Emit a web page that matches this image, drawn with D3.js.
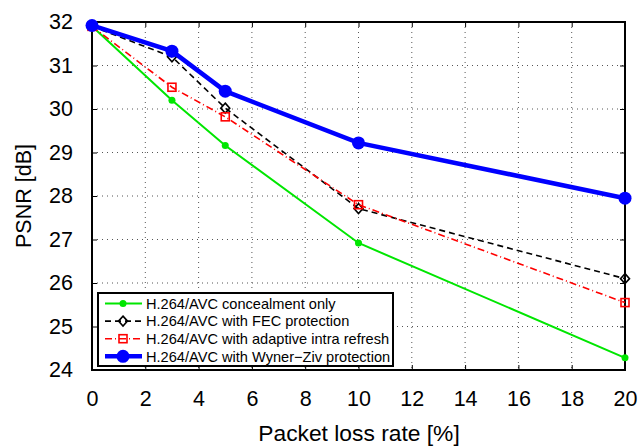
<!DOCTYPE html>
<html>
<head>
<meta charset="utf-8">
<title>PSNR vs packet loss</title>
<script src="https://d3js.org/d3.v7.min.js"></script>
<style>
  body { margin: 0; background: #fff; }
  text { font-family: "Liberation Sans", Arial, sans-serif; }
</style>
</head>
<body>
<svg width="638" height="446"></svg>
<script>
const lossRates = [0, 3, 5, 10, 20]
const concealment = [31.9, 30.2, 29.16, 26.92, 24.28]
const fec = [31.9, 31.2, 30.02, 27.71, 26.1]
const intraRefresh = [31.9, 30.5, 29.82, 27.8, 25.55]
const wynerZiv = [31.92, 31.33, 30.41, 29.22, 27.95]
const seriesNames = [
  "H.264/AVC concealment only",
  "H.264/AVC with FEC protection",
  "H.264/AVC with adaptive intra refresh",
  "H.264/AVC with Wyner\u2212Ziv protection"
]
const xTicks = [0, 2, 4, 6, 8, 10, 12, 14, 16, 18, 20]
const yTicks = [24, 25, 26, 27, 28, 29, 30, 31, 32]

const svg = d3.select("svg")
const margin = { top: 22, right: 13, bottom: 76, left: 92 }
const width = +svg.attr("width") - margin.left - margin.right
const height = +svg.attr("height") - margin.top - margin.bottom

const x = d3.scaleLinear().domain([0, 20]).range([0, width])
const y = d3.scaleLinear().domain([24, 32]).range([height, 0])

const g = svg.append("g").attr("transform", `translate(${margin.left},${margin.top})`)

// dotted grid
g.append("g").selectAll("line").data(xTicks.slice(1, -1)).join("line")
  .attr("x1", d => x(d)).attr("x2", d => x(d)).attr("y1", 0).attr("y2", height)
  .attr("stroke", "#555").attr("stroke-width", 1).attr("stroke-dasharray", "1,4")
g.append("g").selectAll("line").data(yTicks.slice(1, -1)).join("line")
  .attr("y1", d => y(d)).attr("y2", d => y(d)).attr("x1", 0).attr("x2", width)
  .attr("stroke", "#555").attr("stroke-width", 1).attr("stroke-dasharray", "1,4")

// axes, ticks inward
const xAxis = d3.axisBottom(x).tickValues(xTicks).tickSizeInner(-5).tickSizeOuter(0).tickPadding(21)
const yAxis = d3.axisLeft(y).tickValues(yTicks).tickSizeInner(-5).tickSizeOuter(0).tickPadding(19)
const gx = g.append("g").attr("transform", `translate(0,${height})`).call(xAxis)
const gy = g.append("g").call(yAxis)
g.append("g").call(d3.axisTop(x).tickValues(xTicks).tickSizeInner(-5).tickSizeOuter(0).tickFormat(""))
  .call(a => a.select(".domain").remove())
g.append("g").attr("transform", `translate(${width},0)`)
  .call(d3.axisRight(y).tickValues(yTicks).tickSizeInner(-5).tickSizeOuter(0).tickFormat(""))
  .call(a => a.select(".domain").remove())
for (const a of [gx, gy]) {
  a.selectAll("text").attr("font-size", 21.5).attr("fill", "#000")
  a.select(".domain").remove()
}
g.selectAll(".tick line").attr("stroke", "#000").attr("stroke-width", 1)

// frame
g.append("rect").attr("width", width).attr("height", height)
  .attr("fill", "none").attr("stroke", "#000").attr("stroke-width", 2)

// axis titles
svg.append("text").attr("x", margin.left + width / 2 + 0.5).attr("y", 441)
  .attr("text-anchor", "middle").attr("font-size", 22.8).text("Packet loss rate [%]")
svg.append("text").attr("transform", `translate(31,${margin.top + height / 2}) rotate(-90)`)
  .attr("text-anchor", "middle").attr("font-size", 21.5).text("PSNR [dB]")

const styles = [
  { vals: concealment, color: "#00e600", width: 2, dash: null, marker: "dot" },
  { vals: fec, color: "#000", width: 1.6, dash: "6,4", marker: "diamond" },
  { vals: intraRefresh, color: "#ff0000", width: 1.6, dash: "7,3,1,3", marker: "square" },
  { vals: wynerZiv, color: "#0000ff", width: 4.5, dash: null, marker: "circle" }
]

const line = d3.line().x(d => x(d[0])).y(d => y(d[1]))

function drawMarker(sel, type, color) {
  if (type === "dot") {
    sel.append("circle").attr("r", 3.5).attr("fill", color)
  } else if (type === "circle") {
    sel.append("circle").attr("r", 6.5).attr("fill", color)
  } else if (type === "square") {
    sel.append("rect").attr("x", -4).attr("y", -4).attr("width", 8).attr("height", 8)
      .attr("fill", "none").attr("stroke", color).attr("stroke-width", 1.6)
  } else if (type === "diamond") {
    sel.append("path").attr("d", "M0,-5L4.5,0L0,5L-4.5,0Z")
      .attr("fill", "none").attr("stroke", color).attr("stroke-width", 1.6)
  }
}

styles.forEach(s => {
  const pts = lossRates.map((r, i) => [r, s.vals[i]])
  g.append("path").datum(pts).attr("d", line)
    .attr("fill", "none").attr("stroke", s.color).attr("stroke-width", s.width)
    .attr("stroke-dasharray", s.dash)
  pts.forEach(p => {
    const m = g.append("g").attr("transform", `translate(${x(p[0])},${y(p[1])})`)
    drawMarker(m, s.marker, s.color)
  })
})

// legend
const lg = svg.append("g").attr("transform", "translate(98,293)")
lg.append("rect").attr("width", 295).attr("height", 73)
  .attr("fill", "#fff").attr("stroke", "#000").attr("stroke-width", 2)
styles.forEach((s, i) => {
  const row = lg.append("g").attr("transform", `translate(0,${10.5 + i * 17.6})`)
  row.append("line").attr("x1", 7).attr("x2", 44)
    .attr("stroke", s.color).attr("stroke-width", s.width).attr("stroke-dasharray", s.dash)
  drawMarker(row.append("g").attr("transform", "translate(25,0)"), s.marker, s.color)
  row.append("text").attr("x", 48).attr("y", 5.3).attr("font-size", 14.6).text(seriesNames[i])
})
</script>
</body>
</html>
